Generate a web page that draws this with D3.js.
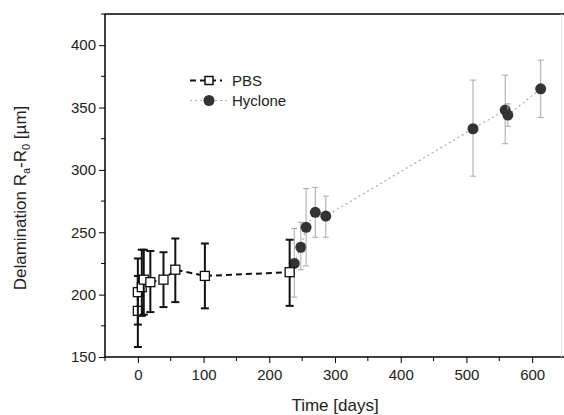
<!DOCTYPE html>
<html>
<head>
<meta charset="utf-8">
<script src="https://cdn.jsdelivr.net/npm/d3@7"></script>
<style>
  body { margin: 0; background: #fff; }
  svg { display: block; font-family: "Liberation Sans", Arial, sans-serif; }
</style>
</head>
<body>
<svg id="chart" width="564" height="415"></svg>
<script>
// PBS series (days, value, lower, upper)
var pbsTime  = [0, 0, 6, 9, 19, 39, 57, 102, 231];
var pbsValue = [187, 202, 206, 212, 210, 212, 220, 215, 218];
var pbsLow   = [158, 176, 183, 184, 186, 190, 194, 189, 191];
var pbsHigh  = [215, 229, 236, 236, 235, 234, 245, 241, 244];

// Hyclone series
var hycTime  = [238, 248, 256, 270, 286, 510, 559, 563, 613];
var hycValue = [225, 238, 254, 266, 263, 333, 348, 344, 365];
var hycLow   = [198, 220, 223, 246, 246, 295, 321, 335, 342];
var hycHigh  = [253, 258, 285, 286, 279, 372, 376, 353, 388];

var xTicks = [0, 100, 200, 300, 400, 500, 600];
var yTicks = [150, 200, 250, 300, 350, 400];

var svg = d3.select('#chart');

var x = d3.scaleLinear().domain([-50, 650]).range([105, 565]);
var y = d3.scaleLinear().domain([150, 425]).range([357, 14]);

// minor ticks ------------------------------------------------
var xMinor = d3.range(-50, 651, 50).filter(d => d % 100 != 0);
var yMinor = d3.range(175, 426, 50);

svg.append('g').selectAll('line').data(xMinor).enter().append('line')
  .attr('x1', d => x(d)).attr('x2', d => x(d))
  .attr('y1', 357).attr('y2', 361)
  .attr('stroke', '#000').attr('stroke-width', 1);

svg.append('g').selectAll('line').data(yMinor).enter().append('line')
  .attr('x1', 101).attr('x2', 105)
  .attr('y1', d => y(d)).attr('y2', d => y(d))
  .attr('stroke', '#000').attr('stroke-width', 1);

// axes -------------------------------------------------------
var xAxis = svg.append('g').attr('transform', 'translate(0,357)')
  .call(d3.axisBottom(x).tickValues(xTicks).tickSize(6).tickPadding(6).tickSizeOuter(0));
var yAxis = svg.append('g').attr('transform', 'translate(105,0)')
  .call(d3.axisLeft(y).tickValues(yTicks).tickSize(6).tickPadding(3).tickSizeOuter(0));

[xAxis, yAxis].forEach(function (g) {
  g.select('.domain').attr('stroke', '#000').attr('stroke-width', 1.5);
  g.selectAll('.tick line').attr('stroke', '#000').attr('stroke-width', 1);
  g.selectAll('.tick text').attr('font-size', 15).attr('fill', '#222')
    .attr('font-family', '"Liberation Sans", Arial, sans-serif');
});
yAxis.select('.domain').attr('d', 'M0,357V14');
xAxis.select('.domain').attr('d', 'M105,0H565');

// frame top / right
svg.append('line').attr('x1', 105).attr('x2', 564).attr('y1', 14).attr('y2', 14)
  .attr('stroke', '#000').attr('stroke-width', 1.5);
svg.append('line').attr('x1', 561.5).attr('x2', 561.5).attr('y1', 14).attr('y2', 357)
  .attr('stroke', '#e4e4e4').attr('stroke-width', 1);

// axis titles
svg.append('text').attr('x', x(300)).attr('y', 411)
  .attr('text-anchor', 'middle').attr('font-size', 17).attr('fill', '#222')
  .text('Time [days]');

var yt = svg.append('text')
  .attr('transform', 'translate(26,' + 198 + ') rotate(-90)')
  .attr('text-anchor', 'middle').attr('font-size', 17).attr('fill', '#222');
yt.append('tspan').text('Delamination R');
yt.append('tspan').attr('font-size', 11).attr('dy', 4).text('a');
yt.append('tspan').attr('dy', -4).text('-R');
yt.append('tspan').attr('font-size', 11).attr('dy', 4).text('0');
yt.append('tspan').attr('dy', -4).text(' [\u00b5m]');

// Hyclone ----------------------------------------------------
var hyc = hycTime.map((t, i) => ({t: t, v: hycValue[i], lo: hycLow[i], hi: hycHigh[i]}));
var pbs = pbsTime.map((t, i) => ({t: t, v: pbsValue[i], lo: pbsLow[i], hi: pbsHigh[i]}));

var line = d3.line().x(d => x(d.t)).y(d => y(d.v));

svg.append('path').datum(hyc).attr('d', line)
  .attr('fill', 'none').attr('stroke', '#aaa').attr('stroke-width', 1.2)
  .attr('stroke-dasharray', '2,3');

var hg = svg.append('g').selectAll('g').data(hyc).enter().append('g');
hg.append('line').attr('x1', d => x(d.t)).attr('x2', d => x(d.t))
  .attr('y1', d => y(d.lo)).attr('y2', d => y(d.hi))
  .attr('stroke', '#a8a8a8').attr('stroke-width', 1);
hg.append('line').attr('x1', d => x(d.t) - 3).attr('x2', d => x(d.t) + 3)
  .attr('y1', d => y(d.lo)).attr('y2', d => y(d.lo))
  .attr('stroke', '#a8a8a8').attr('stroke-width', 1);
hg.append('line').attr('x1', d => x(d.t) - 3).attr('x2', d => x(d.t) + 3)
  .attr('y1', d => y(d.hi)).attr('y2', d => y(d.hi))
  .attr('stroke', '#a8a8a8').attr('stroke-width', 1);
hg.append('circle').attr('cx', d => x(d.t)).attr('cy', d => y(d.v)).attr('r', 5.5)
  .attr('fill', '#333');

// PBS --------------------------------------------------------
svg.append('path').datum(pbs).attr('d', line)
  .attr('fill', 'none').attr('stroke', '#111').attr('stroke-width', 2)
  .attr('stroke-dasharray', '6,4');

var pg = svg.append('g').selectAll('g').data(pbs).enter().append('g');
pg.append('line').attr('x1', d => x(d.t)).attr('x2', d => x(d.t))
  .attr('y1', d => y(d.lo)).attr('y2', d => y(d.hi))
  .attr('stroke', '#111').attr('stroke-width', 2);
pg.append('line').attr('x1', d => x(d.t) - 4).attr('x2', d => x(d.t) + 4)
  .attr('y1', d => y(d.lo)).attr('y2', d => y(d.lo))
  .attr('stroke', '#111').attr('stroke-width', 2);
pg.append('line').attr('x1', d => x(d.t) - 4).attr('x2', d => x(d.t) + 4)
  .attr('y1', d => y(d.hi)).attr('y2', d => y(d.hi))
  .attr('stroke', '#111').attr('stroke-width', 2);
pg.append('rect').attr('x', d => x(d.t) - 4.5).attr('y', d => y(d.v) - 4.5)
  .attr('width', 9).attr('height', 9)
  .attr('fill', '#fff').attr('stroke', '#111').attr('stroke-width', 1.3);

// legend -----------------------------------------------------
var lg = svg.append('g');
lg.append('line').attr('x1', 190).attr('x2', 222).attr('y1', 80.5).attr('y2', 80.5)
  .attr('stroke', '#111').attr('stroke-width', 2).attr('stroke-dasharray', '6,4');
lg.append('rect').attr('x', 205).attr('y', 76.5).attr('width', 8).attr('height', 8)
  .attr('fill', '#fff').attr('stroke', '#111').attr('stroke-width', 1.5);
lg.append('text').attr('x', 232).attr('y', 86).attr('font-size', 15).attr('fill', '#222').text('PBS');

lg.append('line').attr('x1', 190).attr('x2', 228).attr('y1', 100.5).attr('y2', 100.5)
  .attr('stroke', '#aaa').attr('stroke-width', 1.2).attr('stroke-dasharray', '2,3');
lg.append('circle').attr('cx', 209).attr('cy', 100.5).attr('r', 5.5).attr('fill', '#333');
lg.append('text').attr('x', 232).attr('y', 106).attr('font-size', 15).attr('fill', '#222').text('Hyclone');
</script>
</body>
</html>
